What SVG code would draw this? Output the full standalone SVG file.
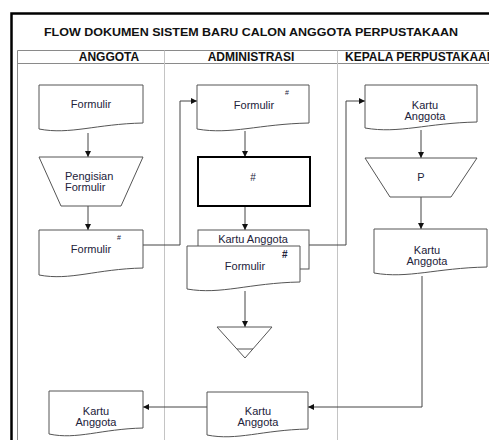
<svg xmlns="http://www.w3.org/2000/svg" width="489" height="440" viewBox="0 0 489 440">
<style>
.doc{fill:#fff;stroke:#555;stroke-width:1}
.lane{stroke:#c4c4c4;stroke-width:1;fill:none}
.hdr{stroke:#8a8a8a;stroke-width:1;fill:none}
.t{font-family:"Liberation Sans",Arial,sans-serif;font-size:11px;fill:#22223a}
.h{font-family:"Liberation Sans",Arial,sans-serif;font-size:12px;font-weight:bold;fill:#111}
.c{fill:none;stroke:#444;stroke-width:1}
.m{text-anchor:middle}
</style>
<defs>
<marker id="ah" markerWidth="6" markerHeight="6" refX="6" refY="3" orient="auto" markerUnits="userSpaceOnUse">
<path d="M0,0 L6,3 L0,6 Z" fill="#111"/>
</marker>
</defs>
<rect width="489" height="440" fill="#fff"/>
<g id="frame">
<path d="M11.5,440 V13.5 H489" fill="none" stroke="#000" stroke-width="2.5"/>
<text class="h" x="44" y="36" style="font-size:11.5px" textLength="414" lengthAdjust="spacingAndGlyphs">FLOW DOKUMEN SISTEM BARU CALON ANGGOTA PERPUSTAKAAN</text>
<path class="hdr" d="M17.5,440 V50.5 H489 M17.5,63.5 H489"/>
<path class="lane" d="M164.5,50.5 V440 M337.5,50.5 V440"/>
<text class="h m" x="109" y="61">ANGGOTA</text>
<text class="h m" x="251" y="61">ADMINISTRASI</text>
<text class="h" x="345" y="61">KEPALA PERPUSTAKAAN</text>
</g>
<g id="connectors">
<path class="c" d="M88,133 V157" marker-end="url(#ah)"/>
<path class="c" d="M88,206 V230" marker-end="url(#ah)"/>
<path class="c" d="M143,245 H180 V101 H197" marker-end="url(#ah)"/>
<path class="c" d="M245,131 V157" marker-end="url(#ah)"/>
<path class="c" d="M245,206 V230" marker-end="url(#ah)"/>
<path class="c" d="M309,245 H346 V101 H365" marker-end="url(#ah)"/>
<path class="c" d="M245,291 V327" marker-end="url(#ah)"/>
<path class="c" d="M421,130 V158" marker-end="url(#ah)"/>
<path class="c" d="M421,197 V229" marker-end="url(#ah)"/>
<path class="c" d="M422,276 V407 H308" marker-end="url(#ah)"/>
<path class="c" d="M207,407 H143" marker-end="url(#ah)"/>
</g>
<g id="a-formulir">
<path class="doc" d="M39,85 H143 V123 C96,124 70,135 39,129 Z"/>
<text class="t m" x="91" y="108">Formulir</text>
</g>
<g id="a-pengisian">
<polygon class="doc" points="39,157 143,157 121,206 61,206"/>
<text class="t" x="65" y="180">Pengisian</text>
<text class="t" x="65" y="191">Formulir</text>
</g>
<g id="a-formulir2">
<path class="doc" d="M39,230 H143 V268 C96,269 70,281 39,275 Z"/>
<text class="t m" x="91" y="253">Formulir</text>
<text class="t" x="117" y="240" style="font-size:7px">#</text>
</g>
<g id="b-formulir">
<path class="doc" d="M197,85 H309 V123 C259,124 231,135 197,129 Z"/>
<text class="t m" x="254" y="109">Formulir</text>
<text class="t" x="285" y="95" style="font-size:7px">#</text>
</g>
<g id="b-proses">
<rect x="198" y="157" width="112" height="49" fill="#fff" stroke="#000" stroke-width="2"/>
<text class="t m" x="253" y="181" style="font-size:10px">#</text>
</g>
<g id="b-kartu-back">
<rect class="doc" x="198" y="230" width="111" height="39"/>
<text class="t m" x="253" y="243">Kartu Anggota</text>
</g>
<g id="b-formulir-front">
<path class="doc" d="M187,246 H300 V282 C249,283 221,295 187,289 Z"/>
<text class="t m" x="245" y="270">Formulir</text>
<text class="t" x="282" y="258" style="font-size:10px;font-weight:bold">#</text>
</g>
<g id="b-arsip">
<polygon class="doc" points="217,327 272,327 245,358"/>
<path class="doc" d="M237,349 H253"/>
</g>
<g id="b-kartu">
<path class="doc" d="M207,392 H308 V429 C262,430 237,441 207,435 Z"/>
<text class="t m" x="258" y="415">Kartu</text>
<text class="t m" x="258" y="426">Anggota</text>
</g>
<g id="a-kartu">
<path class="doc" d="M49,391 H143 V428 C101,429 77,440 49,434 Z"/>
<text class="t m" x="96" y="415">Kartu</text>
<text class="t m" x="96" y="426">Anggota</text>
</g>
<g id="k-kartu">
<path class="doc" d="M365,85 H477 V122 C427,123 399,134 365,128 Z"/>
<text class="t m" x="425" y="109">Kartu</text>
<text class="t m" x="425" y="120">Anggota</text>
</g>
<g id="k-p">
<polygon class="doc" points="365,158 477,158 451,197 390,197"/>
<text class="t m" x="421" y="181">P</text>
</g>
<g id="k-kartu2">
<path class="doc" d="M374,229 H487 V267 C436,268 408,279 374,273 Z"/>
<text class="t m" x="427" y="254">Kartu</text>
<text class="t m" x="427" y="265">Anggota</text>
</g>
</svg>
